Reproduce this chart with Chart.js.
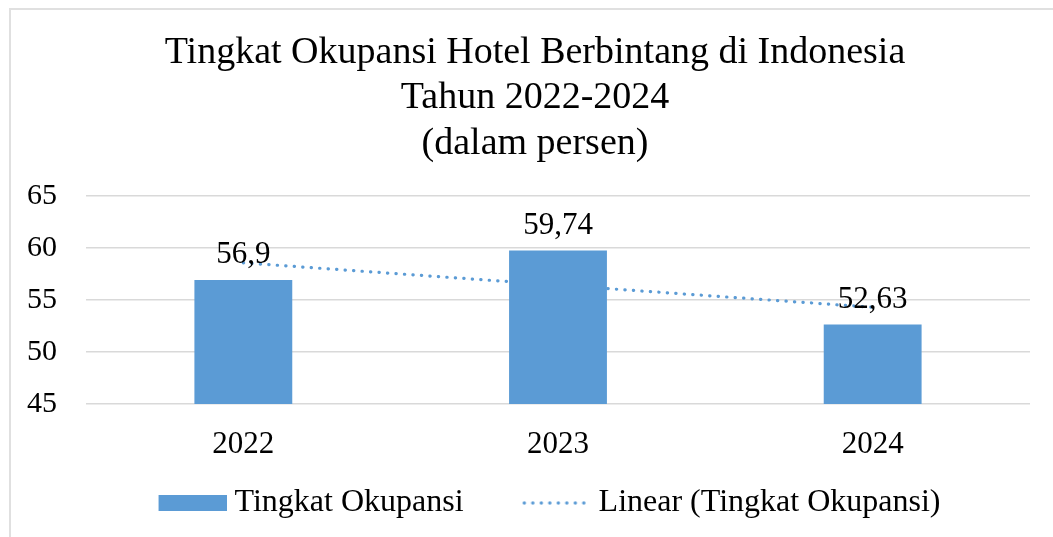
<!DOCTYPE html>
<html lang="id">
<head>
  <meta charset="UTF-8">
  <title>Tingkat Okupansi Hotel Berbintang</title>
  <script src="https://cdn.jsdelivr.net/npm/chart.js"></script>
  <style>
    html, body { margin: 0; background: #fff; overflow: hidden; }
    #bingkai { position: absolute; left: 9px; top: 8px; width: 1080px; height: 560px; border: 2px solid #e0e0e0; box-sizing: border-box; }
    #grafik { position: absolute; left: 0; top: 0; }
  </style>
</head>
<body>
  <div id="bingkai"></div>
  <canvas id="grafik" width="1070" height="537"></canvas>

<script>
  // data
  const tahun = ['2022', '2023', '2024'];
  const okupansi = [56.9, 59.74, 52.63];
  const trenLinear = [58.56, 56.42, 54.29]; // garis tren (perkiraan dari gambar)
  const judul = ['Tingkat Okupansi Hotel Berbintang di Indonesia', 'Tahun 2022-2024', '(dalam persen)'];

  const huruf = "'Liberation Serif', 'Times New Roman', serif";
  const biru = '#5b9bd5';

  // ikon legenda: kotak biru dan garis titik-titik (digambar di sisi kanan ikon)
  function ikon(gambar) {
    const c = document.createElement('canvas');
    c.width = 105;
    c.height = 16;
    gambar(c.getContext('2d'));
    return c;
  }
  const ikonBatang = ikon(g => { g.fillStyle = biru; g.fillRect(37, 0, 68, 16); });
  const ikonGaris = ikon(g => {
    g.fillStyle = biru;
    for (let i = 0; i < 9; i++) {
      g.beginPath();
      g.arc(38.7 + i * 8.5, 8, 1.7, 0, Math.PI * 2);
      g.fill();
    }
  });

  // label nilai di atas batang
  const labelNilai = {
    id: 'labelNilai',
    afterDatasetsDraw(chart) {
      const meta = chart.getDatasetMeta(0);
      const ctx = chart.ctx;
      ctx.save();
      ctx.font = '31px ' + huruf;
      ctx.fillStyle = '#000';
      ctx.textAlign = 'center';
      ctx.textBaseline = 'middle';
      meta.data.forEach((bar, i) => {
        ctx.fillText(String(okupansi[i]).replace('.', ','), bar.x, bar.y - 25);
      });
      ctx.restore();
    }
  };

  new Chart(document.getElementById('grafik'), {
    data: {
      labels: tahun,
      datasets: [{
        type: 'bar',
        label: 'Tingkat Okupansi',
        data: okupansi,
        backgroundColor: biru,
        borderWidth: 0,
        barPercentage: 0.311,
        categoryPercentage: 1,
        pointStyle: ikonBatang,
        order: 0
      }, {
        type: 'line',
        label: 'Linear (Tingkat Okupansi)',
        data: trenLinear,
        borderColor: biru,
        backgroundColor: biru,
        borderWidth: 3.2,
        borderDash: [0.3, 8.2],
        borderCapStyle: 'round',
        pointRadius: 0,
        pointStyle: ikonGaris,
        tension: 0,
        order: 1
      }]
    },
    options: {
      responsive: false,
      animation: false,
      layout: { padding: { left: 0, right: 0, top: 0, bottom: 8 } },
      plugins: {
        title: {
          display: true,
          text: judul,
          color: '#000',
          font: { family: huruf, size: 38, weight: 'normal', lineHeight: 1.2 },
          padding: { top: 30, bottom: 29 }
        },
        legend: {
          position: 'bottom',
          labels: {
            color: '#000',
            font: { family: huruf, size: 32 },
            usePointStyle: true,
            pointStyleWidth: 89,
            boxHeight: 16,
            padding: 30
          }
        },
        tooltip: { enabled: false }
      },
      scales: {
        x: {
          afterFit: (s) => { s.height = 53; },
          grid: { display: false },
          border: { display: false },
          ticks: { color: '#000', font: { family: huruf, size: 31 }, padding: 14 }
        },
        y: {
          min: 45,
          max: 65,
          afterFit: (s) => { s.width = 86; },
          grid: { color: '#d9d9d9', lineWidth: 1.5, drawTicks: false },
          border: { display: false },
          ticks: { stepSize: 5, color: '#000', font: { family: huruf, size: 30 }, padding: 29 }
        },
        kanan: {
          position: 'right',
          afterFit: (s) => { s.width = 40; },
          grid: { display: false },
          border: { display: false },
          ticks: { display: false }
        }
      }
    },
    plugins: [labelNilai]
  });
</script>
</body>
</html>
